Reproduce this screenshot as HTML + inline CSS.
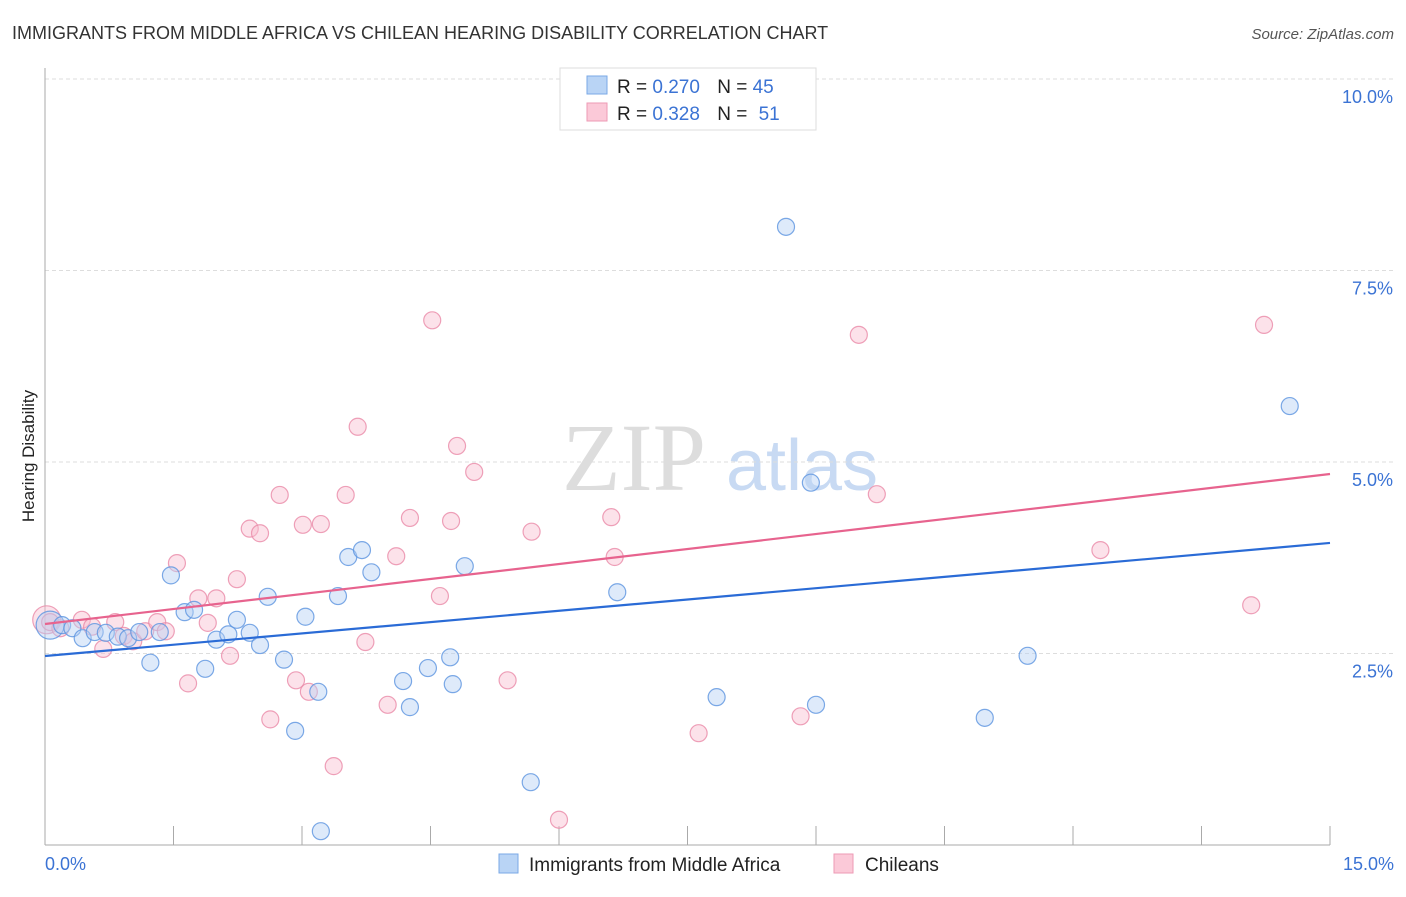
<!DOCTYPE html>
<html><head><meta charset="utf-8"><style>
body{margin:0;background:#fff;font-family:"Liberation Sans",sans-serif}
</style></head><body>
<svg width="1406" height="892" viewBox="0 0 1406 892" xmlns="http://www.w3.org/2000/svg">
<text x="12" y="39" font-size="18" fill="#333">IMMIGRANTS FROM MIDDLE AFRICA VS CHILEAN HEARING DISABILITY CORRELATION CHART</text>
<text x="1394" y="39" font-size="15" fill="#555" font-style="italic" text-anchor="end">Source: ZipAtlas.com</text>
<g>
<text x="634" y="490" font-size="96" font-family="Liberation Serif,serif" fill="#ddd" text-anchor="middle">ZIP</text>
<text x="802" y="490" font-size="72" fill="#c8daf3" text-anchor="middle">atlas</text>
</g>
<g id="grid"></g>
<g id="axes"></g>
<g id="marks"></g>
<text transform="translate(34,456) rotate(-90)" font-size="17" fill="#222" text-anchor="middle">Hearing Disability</text>
<text x="45" y="870" font-size="18" fill="#3b73d4">0.0%</text>
<text x="1394" y="870" font-size="18" fill="#3b73d4" text-anchor="end">15.0%</text>
<g>
<rect x="560" y="68" width="256" height="62" fill="#fff" stroke="#ddd"/>
<rect x="587" y="76" width="20" height="18" fill="#b9d4f5" stroke="#7aa8e6"/>
<rect x="587" y="103" width="20" height="18" fill="#fbc9d8" stroke="#ee9ab5"/>
<text x="617" y="93" font-size="19" fill="#222">R = <tspan fill="#3b73d4">0.270</tspan>  <tspan dx="12">N = </tspan><tspan fill="#3b73d4">45</tspan></text>
<text x="617" y="120" font-size="19" fill="#222">R = <tspan fill="#3b73d4">0.328</tspan>  <tspan dx="12">N = </tspan><tspan fill="#3b73d4" dx="6">51</tspan></text>
</g>
<g>
<rect x="499" y="854" width="19" height="19" fill="#b9d4f5" stroke="#7aa8e6"/>
<text x="529" y="871" font-size="19" fill="#222">Immigrants from Middle Africa</text>
<rect x="834" y="854" width="19" height="19" fill="#fbc9d8" stroke="#ee9ab5"/>
<text x="865" y="871" font-size="19" fill="#222">Chileans</text>
</g>
</svg>
<script>
const blueX=[0.06,0.20,0.32,0.44,0.58,0.71,0.85,0.97,1.10,1.23,1.34,1.47,1.63,1.74,1.87,2.00,2.14,2.24,2.39,2.51,2.60,2.79,2.92,3.04,3.19,3.22,3.42,3.54,3.70,3.81,4.18,4.26,4.47,4.73,4.76,4.90,5.67,6.68,7.84,8.65,8.94,9.00,10.97,11.47,14.53];
const blueY=[2.87,2.87,2.83,2.70,2.78,2.77,2.72,2.70,2.78,2.38,2.78,3.52,3.04,3.07,2.30,2.68,2.75,2.94,2.77,2.61,3.24,2.42,1.49,2.98,2.00,0.18,3.25,3.76,3.85,3.56,2.14,1.80,2.31,2.45,2.10,3.64,0.82,3.30,1.93,8.07,4.73,1.83,1.66,2.47,5.73];
const pinkX=[0.02,0.06,0.18,0.43,0.55,0.68,0.82,0.92,1.03,1.17,1.31,1.41,1.54,1.67,1.79,1.90,2.00,2.16,2.24,2.39,2.51,2.63,2.74,2.93,3.01,3.08,3.22,3.37,3.51,3.65,3.74,4.00,4.10,4.26,4.52,4.61,4.74,4.81,5.01,5.40,5.68,6.00,6.61,6.65,7.63,8.82,9.50,9.71,12.32,14.08,14.23];
const pinkY=[2.94,2.91,2.83,2.94,2.85,2.56,2.91,2.73,2.66,2.79,2.91,2.79,3.68,2.11,3.22,2.90,3.22,2.47,3.47,4.13,4.07,1.64,4.57,2.15,4.18,2.00,4.19,1.03,4.57,5.46,2.65,1.83,3.77,4.27,6.85,3.25,4.23,5.21,4.87,2.15,4.09,0.33,4.28,3.76,1.46,1.68,6.66,4.58,3.85,3.13,6.79];
const blueTrend=[2.467,3.943];
const pinkTrend=[2.885,4.843];
const yTicks=[2.5,5.0,7.5,10.0];
const xTicks=[0,1.5,3,4.5,6,7.5,9,10.5,12,13.5,15];
const NS="http://www.w3.org/2000/svg";
const sx=v=>45+v/15*1285;
const sy=v=>845-v/2.5*191.5;
function mk(tag,attrs,parent){const e=document.createElementNS(NS,tag);for(const k in attrs)e.setAttribute(k,attrs[k]);parent.appendChild(e);return e;}
const grid=document.getElementById('grid'),axes=document.getElementById('axes'),marks=document.getElementById('marks');
yTicks.forEach(t=>{
 const l=mk('line',{x1:45,x2:1395,y1:sy(t),y2:sy(t),stroke:'#ddd','stroke-dasharray':'4,3'},grid);
 
 
 const tx=mk('text',{x:1393,y:sy(t)+24,'font-size':18,fill:'#3b73d4','text-anchor':'end'},grid);
 tx.textContent=t.toFixed(1)+'%';
 
 
});
const ya=mk('line',{x1:45,x2:45,y1:68,y2:845,stroke:'#aaa'},axes);


const xa=mk('line',{x1:45,x2:1330,y1:845,y2:845,stroke:'#aaa'},axes);


xTicks.forEach(t=>{
 const l=mk('line',{x1:sx(t),x2:sx(t),y1:826,y2:845,stroke:'#aaa'},axes);
 
 
});
function pts(X,Y,fill,stroke,name){
 X.forEach((x,i)=>{
  const c=mk('circle',{cx:sx(x),cy:sy(Y[i]),r:i===0?14:8.5,fill:fill,'fill-opacity':0.45,stroke:stroke,'stroke-width':1.2,'stroke-opacity':0.8},marks);
  
  
 });
}
pts(pinkX,pinkY,'#f8bfd0','#ea89a8','chileans-point');
pts(blueX,blueY,'#b5d0f3','#5b93e0','middle-africa-point');
const bt=mk('line',{x1:sx(0),y1:sy(blueTrend[0]),x2:sx(15),y2:sy(blueTrend[1]),stroke:'#2a6bd6','stroke-width':2.2},marks);


const pt=mk('line',{x1:sx(0),y1:sy(pinkTrend[0]),x2:sx(15),y2:sy(pinkTrend[1]),stroke:'#e7638e','stroke-width':2.2},marks);


</script>
</body></html>
